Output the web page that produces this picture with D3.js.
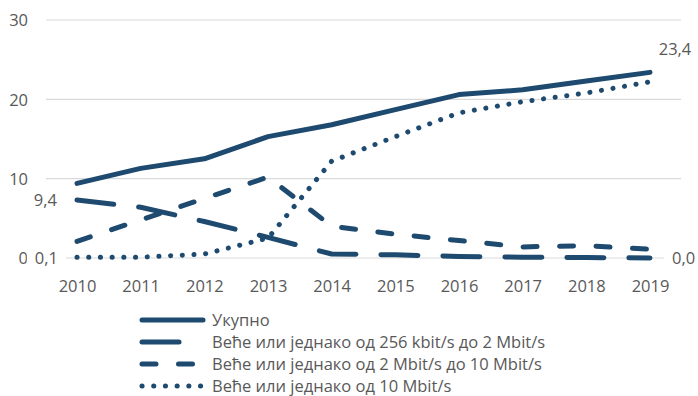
<!DOCTYPE html>
<html>
<head>
<meta charset="utf-8">
<script src="https://cdn.jsdelivr.net/npm/d3@7/dist/d3.min.js"></script>
<style>
  html, body { margin: 0; padding: 0; background: #fff; }
  svg { display: block; font-family: "Open Sans", sans-serif; }
</style>
</head>
<body>
<svg id="chart" width="698" height="396"></svg>
<script>
// Years on the horizontal axis
const years = [2010, 2011, 2012, 2013, 2014, 2015, 2016, 2017, 2018, 2019];

// Series values
const total = [9.4, 11.3, 12.5, 15.3, 16.8, 18.7, 20.6, 21.2, 22.3, 23.4];
const from256kTo2M = [7.3, 6.4, 4.6, 2.6, 0.5, 0.4, 0.2, 0.1, 0.05, 0.0];
const from2MTo10M = [2.1, 4.8, 7.5, 10.2, 4.0, 3.0, 2.2, 1.4, 1.55, 1.1];
const from10M = [0.1, 0.1, 0.5, 2.5, 12.2, 15.3, 18.3, 19.7, 20.8, 22.2];

// Series names (legend)
const seriesNames = [
  "Укупно",
  "Веће или једнако од 256 kbit/s до 2 Mbit/s",
  "Веће или једнако од 2 Mbit/s до 10 Mbit/s",
  "Веће или једнако од 10 Mbit/s"
];

// Y-axis ticks
const yTicks = [0, 10, 20, 30];

const color = "#1d4a6e";
const textColor = "#595959";
const fontSize = 16.5;

const dashes = [null, "37,25", "14,22.5", "0.1,11.6"];

const series = [total, from256kTo2M, from2MTo10M, from10M].map((vals, i) => ({
  name: seriesNames[i],
  dash: dashes[i],
  values: vals.map((v, j) => ({ year: years[j], value: v }))
}));

const svg = d3.select("#chart");

const x = d3.scaleLinear().domain([2010, 2019]).range([77, 650]);
const y = d3.scaleLinear().domain([0, 30]).range([258, 20]);

// Gridlines
svg.append("g")
  .selectAll("line")
  .data(yTicks)
  .join("line")
  .attr("x1", 46).attr("x2", 681)
  .attr("y1", d => y(d)).attr("y2", d => y(d))
  .attr("stroke", "#d9d9d9")
  .attr("stroke-width", 1.2);

// Y axis labels
const yAxis = d3.axisLeft(y).tickValues(yTicks).tickSize(0).tickPadding(0).tickFormat(d3.format("d"));
svg.append("g")
  .attr("transform", "translate(28,0)")
  .call(yAxis)
  .call(g => g.select(".domain").remove())
  .call(g => g.selectAll("text")
    .attr("fill", textColor)
    .attr("font-size", fontSize)
    .attr("font-family", "'Open Sans', sans-serif")
    .attr("dy", "0.36em"));

// X axis labels
const xAxis = d3.axisBottom(x).tickValues(years).tickSize(0).tickPadding(0).tickFormat(d3.format("d"));
svg.append("g")
  .attr("transform", "translate(0,280)")
  .call(xAxis)
  .call(g => g.select(".domain").remove())
  .call(g => g.selectAll("text")
    .attr("fill", textColor)
    .attr("font-size", fontSize)
    .attr("font-family", "'Open Sans', sans-serif")
    .attr("dy", "0.75em"));

// Data labels with a white backing box (drawn before lines so lines stay on top)
const fmt = v => d3.format(".1f")(v).replace(".", ",");
const labels = [
  { value: total[0], x: x(years[0]) - 20, y: y(total[0]) + 17, anchor: "end" },
  { value: from10M[0], x: x(years[0]) - 19, y: y(from10M[0]) + 1, anchor: "end", box: true },
  { value: total[total.length - 1], x: x(years[years.length - 1]) + 25, y: y(total[total.length - 1]) - 23, anchor: "middle" },
  { value: from256kTo2M[from256kTo2M.length - 1], x: x(years[years.length - 1]) + 22, y: y(from256kTo2M[from256kTo2M.length - 1]), anchor: "start", box: true }
];

const labelG = svg.append("g");
labels.forEach(l => {
  const g = labelG.append("g");
  const t = g.append("text")
    .attr("x", l.x).attr("y", l.y)
    .attr("dy", "0.36em")
    .attr("text-anchor", l.anchor)
    .attr("fill", textColor)
    .attr("font-size", fontSize)
    .text(fmt(l.value));
  if (l.box) {
    const b = t.node().getBBox();
    g.insert("rect", "text")
      .attr("x", b.x - 8).attr("y", b.y)
      .attr("width", b.width + 16).attr("height", b.height)
      .attr("fill", "#fff");
  }
});

// Lines
const line = d3.line().x(d => x(d.year)).y(d => y(d.value));
svg.append("g")
  .selectAll("path")
  .data(series)
  .join("path")
  .attr("d", d => line(d.values))
  .attr("fill", "none")
  .attr("stroke", color)
  .attr("stroke-width", 5)
  .attr("stroke-linecap", "round")
  .attr("stroke-linejoin", "round")
  .attr("stroke-dasharray", d => d.dash);

// Legend
const legend = svg.append("g");
const rowY = [320, 342, 364, 386];
series.forEach((s, i) => {
  legend.append("line")
    .attr("x1", 142).attr("x2", 203)
    .attr("y1", rowY[i]).attr("y2", rowY[i])
    .attr("stroke", color)
    .attr("stroke-width", 5)
    .attr("stroke-linecap", "round")
    .attr("stroke-dasharray", s.dash);
  legend.append("text")
    .attr("x", 212).attr("y", rowY[i])
    .attr("dy", "0.36em")
    .attr("fill", textColor)
    .attr("font-size", fontSize)
    .text(s.name);
});
</script>
</body>
</html>
